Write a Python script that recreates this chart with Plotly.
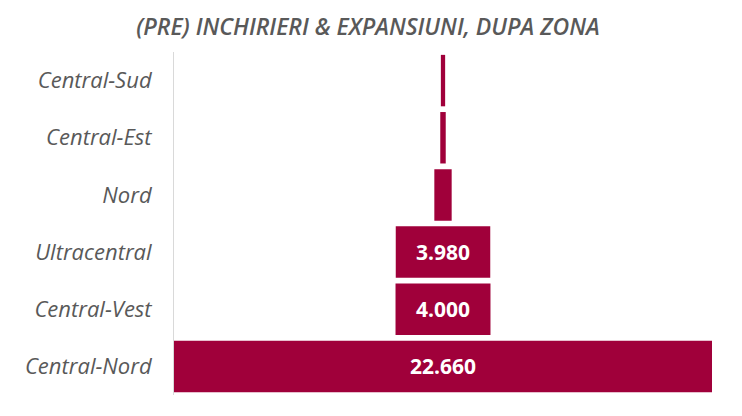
import plotly.graph_objects as go

zones = ["Central-Sud", "Central-Est", "Nord", "Ultracentral", "Central-Vest", "Central-Nord"]
values = [180, 230, 730, 3980, 4000, 22660]
show_label = [False, False, False, True, True, True]

templates = ["%{value:,}" if s else "" for s in show_label]

fig = go.Figure(go.Funnel(
    y=zones,
    x=values,
    texttemplate=templates,
    textposition="inside",
    insidetextanchor="middle",
    textfont=dict(family="Open Sans", size=21, color="white", weight="bold"),
    marker=dict(color="#A0003A", line=dict(width=0)),
    connector=dict(visible=False),
    width=0.9,
    constraintext="none",
))

half = max(values) / 2
fig.update_layout(
    width=742, height=416,
    separators=",.",
    paper_bgcolor="white", plot_bgcolor="white",
    margin=dict(l=166, r=38, t=44, b=29),
    title=dict(text="<i>(PRE) INCHIRIERI & EXPANSIUNI, DUPA ZONA</i>",
               x=0.485, xanchor="center", y=0.955, yanchor="middle",
               font=dict(family="Open Sans", size=23, color="#595959", weight=600)),
    xaxis=dict(visible=False, range=[-half, half]),
    yaxis=dict(showline=True, linecolor="#D9D9D9", linewidth=1, ticks="",
               tickfont=dict(family="Open Sans", size=22, color="#595959", style="italic"),
               ticklabelstandoff=17),
    showlegend=False,
)
fig.write_html("out.html")
